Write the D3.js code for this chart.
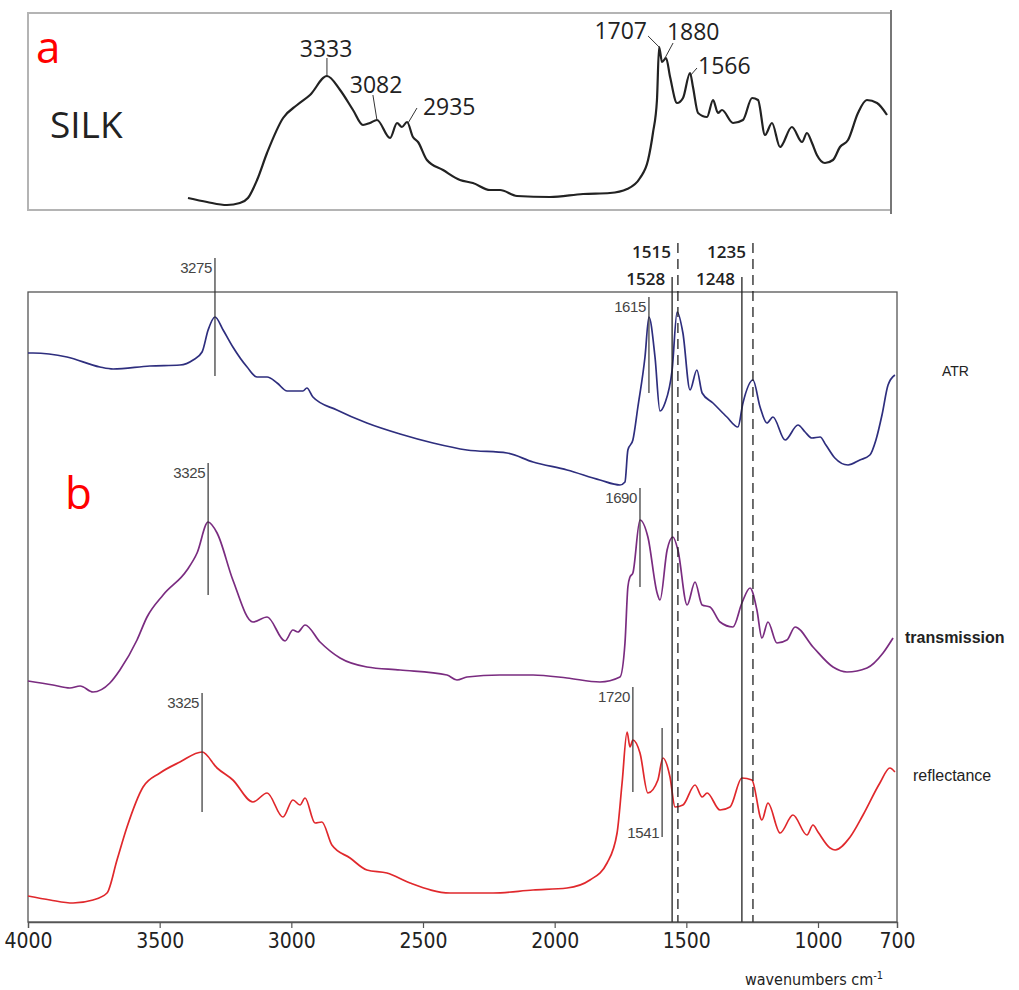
<!DOCTYPE html>
<html>
<head>
<meta charset="utf-8">
<script src="https://cdnjs.cloudflare.com/ajax/libs/d3/7.8.5/d3.min.js"></script>
<style>
  body { margin: 0; background: #fff; }
  svg text { font-family: "Open Sans", "Noto Sans", sans-serif; }
</style>
</head>
<body>
<svg id="chart" width="1019" height="990"></svg>
<script>
// panel a: silk reference spectrum  [wavenumber, intensity]
let silk = [[4000,0.12],[3910,0.08],[3816,0.05],[3755,0.07],[3717,0.12],[3674,0.30],[3627,0.57],[3551,0.92],
  [3485,1.05],[3424,1.15],[3344,1.34],[3282,1.20],[3221,1.00],[3174,0.85],[3141,0.87],[3108,0.90],[3046,0.72],
  [3013,0.87],[2990,0.83],[2966,0.88],[2938,0.73],[2914,0.68],[2872,0.50],[2796,0.40],[2716,0.30],[2655,0.27],
  [2574,0.20],[2527,0.20],[2447,0.14],[2291,0.13],[2135,0.16],[2008,0.17],[1927,0.21],[1866,0.32],[1828,0.50],
  [1805,0.77],[1786,1.10],[1776,1.63],[1762,1.48],[1743,1.52],[1724,1.33],[1691,1.07],[1663,1.12],[1630,1.37],
  [1616,1.23],[1592,0.97],[1550,0.93],[1521,1.10],[1498,0.97],[1479,1.00],[1427,0.87],[1380,0.90],[1337,1.12],
  [1309,1.10],[1276,0.75],[1243,0.87],[1205,0.63],[1149,0.83],[1101,0.68],[1078,0.77],[1054,0.67],[1031,0.55],
  [993,0.47],[955,0.50],[922,0.63],[884,0.70],[837,0.97],[795,1.10],[747,1.07],[700,0.95]];

// label text, text anchor point, leader line from -> to
let silkPeaks = [
  {text:"3333", anchor:"middle", tx:3348, ty:1.53, x1:3344, y1:1.52, x2:3344, y2:1.34},
  {text:"3082", anchor:"middle", tx:3112, ty:1.17, x1:3127, y1:1.15, x2:3108, y2:0.90},
  {text:"2935", anchor:"start",  tx:2891, ty:0.95, x1:2919, y1:1.02, x2:2961, y2:0.87},
  {text:"1707", anchor:"end",    tx:1833, ty:1.71, x1:1828, y1:1.74, x2:1776, y2:1.63},
  {text:"1880", anchor:"start",  tx:1739, ty:1.70, x1:1710, y1:1.67, x2:1748, y2:1.52},
  {text:"1566", anchor:"start",  tx:1592, ty:1.36, x1:1597, y1:1.42, x2:1626, y2:1.35}
];

// panel b spectra
let atr = [[4000,5.69],[3981,5.69],[3852,5.65],[3727,5.55],[3677,5.53],[3537,5.56],[3423,5.57],[3373,5.62],
  [3339,5.70],[3316,5.92],[3290,6.05],[3259,5.92],[3222,5.75],[3168,5.55],[3130,5.45],[3092,5.45],[3054,5.39],
  [3016,5.31],[2956,5.31],[2941,5.34],[2918,5.25],[2827,5.12],[2713,4.99],[2587,4.88],[2462,4.79],[2333,4.72],
  [2181,4.69],[2082,4.60],[1953,4.52],[1828,4.42],[1752,4.37],[1733,4.40],[1722,4.72],[1703,4.82],[1684,5.15],
  [1657,5.65],[1642,6.05],[1619,5.65],[1600,5.11],[1581,5.19],[1554,5.52],[1535,6.10],[1513,5.89],[1486,5.32],
  [1460,5.52],[1440,5.29],[1399,5.19],[1346,5.05],[1304,4.95],[1285,5.19],[1247,5.42],[1220,5.15],[1194,4.99],
  [1171,5.05],[1125,4.82],[1076,4.97],[1049,4.90],[1023,4.84],[992,4.85],[970,4.77],[936,4.64],[886,4.57],
  [841,4.62],[803,4.67],[780,4.82],[757,5.07],[734,5.37],[708,5.47]];

let transmission = [[4000,2.41],[3905,2.37],[3841,2.34],[3802,2.36],[3753,2.30],[3689,2.39],[3651,2.52],
  [3586,2.82],[3548,3.05],[3487,3.27],[3396,3.52],[3358,3.69],[3316,4.00],[3282,3.89],[3222,3.42],[3146,3.00],
  [3092,3.05],[3024,2.81],[2994,2.92],[2975,2.90],[2948,2.97],[2891,2.80],[2815,2.64],[2713,2.55],[2587,2.52],
  [2409,2.47],[2371,2.42],[2333,2.45],[2208,2.47],[2082,2.47],[1953,2.44],[1828,2.40],[1752,2.45],[1733,2.79],
  [1722,3.35],[1714,3.45],[1703,3.49],[1676,4.02],[1646,3.85],[1611,3.29],[1600,3.22],[1573,3.72],[1551,3.85],
  [1532,3.72],[1497,3.17],[1467,3.40],[1440,3.17],[1410,3.15],[1372,3.00],[1323,2.95],[1289,3.19],[1258,3.34],
  [1232,3.12],[1213,2.84],[1190,3.00],[1156,2.79],[1118,2.82],[1087,2.95],[1019,2.75],[943,2.55],[890,2.50],
  [814,2.54],[753,2.69],[715,2.84]];

let reflectance = [[4000,0.26],[3916,0.22],[3829,0.19],[3753,0.22],[3700,0.29],[3662,0.62],[3624,0.95],
  [3563,1.35],[3499,1.49],[3423,1.60],[3339,1.70],[3282,1.54],[3222,1.42],[3146,1.20],[3092,1.29],[3032,1.05],
  [2994,1.22],[2967,1.17],[2948,1.24],[2910,0.99],[2884,1.00],[2846,0.77],[2777,0.64],[2713,0.52],[2637,0.49],
  [2549,0.39],[2397,0.29],[2234,0.29],[2082,0.32],[1953,0.34],[1866,0.42],[1801,0.59],[1763,0.89],[1744,1.39],
  [1725,1.90],[1714,1.75],[1703,1.82],[1676,1.69],[1646,1.29],[1608,1.42],[1589,1.64],[1562,1.45],[1543,1.15],
  [1513,1.17],[1467,1.37],[1440,1.25],[1421,1.29],[1372,1.12],[1334,1.15],[1289,1.44],[1251,1.42],[1213,1.02],
  [1190,1.19],[1144,0.89],[1095,1.07],[1042,0.87],[1019,0.97],[1000,0.90],[954,0.74],[935,0.72],[878,0.85],
  [829,1.07],[765,1.39],[727,1.54],[708,1.50]];

let seriesNames = ["ATR", "transmission", "reflectance"];
let seriesColors = ["#2e2e7e", "#7a2c80", "#e0282c"];
let seriesLabelY = [5.46, 2.79, 1.41];

// short peak markers: label, wavenumber, line top/bottom
let peakMarks = [
  {text:"3275", wn:3290, top:6.64, bottom:5.46, at:"top"},
  {text:"3325", wn:3316, top:4.59, bottom:3.27, at:"top"},
  {text:"3325", wn:3339, top:2.29, bottom:1.10, at:"top"},
  {text:"1615", wn:1642, top:6.25, bottom:5.29, at:"top"},
  {text:"1690", wn:1676, top:4.34, bottom:3.35, at:"top"},
  {text:"1720", wn:1703, top:2.35, bottom:1.30, at:"top"},
  {text:"1541", wn:1592, top:1.94, bottom:0.85, at:"bottom"}
];

// full height reference lines
let refLines = [
  {text:"1528", wn:1554, top:6.45, labelY:6.37, dashed:false},
  {text:"1515", wn:1532, top:6.79, labelY:6.64, dashed:true},
  {text:"1248", wn:1289, top:6.45, labelY:6.37, dashed:false},
  {text:"1235", wn:1247, top:6.79, labelY:6.64, dashed:true}
];

let xTicks = [4000, 3500, 3000, 2500, 2000, 1500, 1000, 700];

let svg = d3.select("#chart");

// ---------- panel a ----------
let xa = d3.scaleLinear().domain([4000, 700]).range([188, 887]);
let ya = d3.scaleLinear().domain([0, 1.97]).range([210, 13]);

let ga = svg.append("g");
ga.append("rect").attr("x", 28).attr("y", 13).attr("width", 863).attr("height", 197)
  .attr("fill", "none").attr("stroke", "#b4b4b4").attr("stroke-width", 2);
ga.append("line").attr("x1", 891).attr("x2", 891).attr("y1", 10).attr("y2", 214)
  .attr("stroke", "#777").attr("stroke-width", 2);

let lineA = d3.line().x(d => xa(d[0])).y(d => ya(d[1])).curve(d3.curveMonotoneX);
ga.append("path").datum(silk).attr("d", lineA)
  .attr("fill", "none").attr("stroke", "#222").attr("stroke-width", 2.2).attr("stroke-linejoin", "round");

ga.selectAll(".lead").data(silkPeaks).join("line")
  .attr("x1", d => xa(d.x1)).attr("y1", d => ya(d.y1))
  .attr("x2", d => xa(d.x2)).attr("y2", d => ya(d.y2))
  .attr("stroke", "#333").attr("stroke-width", 1);
ga.selectAll(".plab").data(silkPeaks).join("text")
  .attr("x", d => xa(d.tx)).attr("y", d => ya(d.ty))
  .attr("text-anchor", d => d.anchor)
  .attr("font-size", 23).attr("fill", "#222")
  .text(d => d.text);

ga.append("text").attr("x", 36).attr("y", 63).attr("font-size", 44).attr("fill", "#f00").text("a");
ga.append("text").attr("x", 50).attr("y", 138).attr("font-size", 37).attr("fill", "#222").text("SILK");

// ---------- panel b ----------
let xb = d3.scaleLinear().domain([4000, 700]).range([28, 897]);
let yb = d3.scaleLinear().domain([0, 6.3]).range([922, 292]);

let gb = svg.append("g");

gb.append("rect").attr("x", xb(4000)).attr("y", yb(6.3))
  .attr("width", xb(700) - xb(4000)).attr("height", yb(0) - yb(6.3))
  .attr("fill", "none").attr("stroke", "#555").attr("stroke-width", 1.3);

let lineB = d3.line().x(d => xb(d[0])).y(d => yb(d[1])).curve(d3.curveMonotoneX);
[atr, transmission, reflectance].forEach((s, i) => {
  gb.append("path").datum(s).attr("d", lineB)
    .attr("fill", "none").attr("stroke", seriesColors[i])
    .attr("stroke-width", 1.7).attr("stroke-linejoin", "round");
});

gb.selectAll(".ref").data(refLines).join("line")
  .attr("x1", d => xb(d.wn)).attr("x2", d => xb(d.wn))
  .attr("y1", d => yb(d.top)).attr("y2", yb(0))
  .attr("stroke", "#222").attr("stroke-width", 1.3)
  .attr("stroke-dasharray", d => d.dashed ? "10,6" : null);
gb.selectAll(".reflab").data(refLines).join("text")
  .attr("x", d => xb(d.wn) - 7).attr("y", d => yb(d.labelY))
  .attr("text-anchor", "end").attr("font-size", 17).attr("font-weight", 600)
  .attr("fill", "#222").text(d => d.text);

gb.selectAll(".peak").data(peakMarks).join("line")
  .attr("x1", d => xb(d.wn)).attr("x2", d => xb(d.wn))
  .attr("y1", d => yb(d.top)).attr("y2", d => yb(d.bottom))
  .attr("stroke", "#333").attr("stroke-width", 1.2);
gb.selectAll(".peaklab").data(peakMarks).join("text")
  .attr("x", d => xb(d.wn) - 3)
  .attr("y", d => d.at == "top" ? yb(d.top) + 15 : yb(d.bottom) + 1)
  .attr("text-anchor", "end")
  .style("font-family", "'Liberation Sans', Arial, sans-serif")
  .attr("font-size", 15).attr("letter-spacing", -0.4).attr("fill", "#444")
  .text(d => d.text);

gb.selectAll(".slab").data(seriesNames).join("text")
  .attr("x", (d, i) => xb(700) + [45, 8, 16][i])
  .attr("y", (d, i) => yb(seriesLabelY[i]))
  .style("font-family", "'Liberation Sans', Arial, sans-serif")
  .attr("font-size", (d, i) => [14, 16, 16][i])
  .attr("font-weight", (d, i) => i == 1 ? "bold" : "normal")
  .attr("fill", "#222").text(d => d);

let axis = d3.axisBottom(xb).tickValues(xTicks).tickSize(6).tickFormat(d3.format("d"));
let gx = gb.append("g").attr("transform", `translate(0,${yb(0)})`).call(axis);
gx.select(".domain").attr("stroke", "#555").attr("stroke-width", 1.3);
gx.selectAll(".tick line").attr("stroke", "#555").attr("stroke-width", 1.2);
gx.selectAll(".tick text")
  .style("font-family", "'Liberation Sans Narrow', 'DejaVu Sans Condensed', sans-serif")
  .attr("font-size", 21).attr("fill", "#222").attr("y", 11);

let xl = gb.append("text").attr("x", 745).attr("y", 985)
  .style("font-family", "'Liberation Sans Narrow', 'DejaVu Sans Condensed', sans-serif")
  .attr("font-size", 16).attr("fill", "#222");
xl.append("tspan").text("wavenumbers cm");
xl.append("tspan").attr("dy", -6).attr("font-size", 11).text("-1");

gb.append("text").attr("x", 65).attr("y", 509).attr("font-size", 44).attr("fill", "#f00").text("b");
</script>
</body>
</html>
